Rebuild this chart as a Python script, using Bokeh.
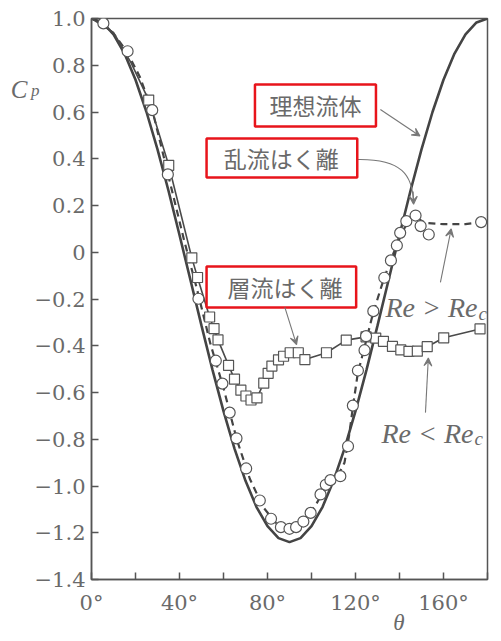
from bokeh.plotting import figure
from bokeh.models import (Range1d, FixedTicker, CustomJSTickFormatter, Label,
                          BoxAnnotation, Arrow, VeeHead, LinearAxis)
from bokeh.embed import file_html
from bokeh.resources import INLINE

# ---------------- data ----------------
ideal_theta = [0, 5, 10, 15, 20, 25, 30, 35, 40, 45, 50, 55, 60, 65, 70, 75, 80, 85, 90,
               95, 100, 105, 110, 115, 120, 125, 130, 135, 140, 145, 150, 155, 160, 165,
               170, 175, 180]
ideal_cp = [1.0, 0.983, 0.932, 0.850, 0.738, 0.600, 0.440, 0.263, 0.074, -0.120, -0.314,
            -0.503, -0.680, -0.840, -0.978, -1.090, -1.172, -1.223, -1.240,
            -1.223, -1.172, -1.090, -0.978, -0.840, -0.680, -0.503, -0.314, -0.120,
            0.074, 0.263, 0.440, 0.600, 0.738, 0.850, 0.932, 0.983, 1.0]

turb_line_theta = [0, 5, 10, 16, 22, 28, 35, 42, 48, 54, 60, 66, 72, 78, 84, 90, 96, 102,
                   107, 112, 115, 117, 119, 121, 124, 128, 133, 137, 141, 144, 147, 152,
                   160, 170, 178]
turb_line_cp = [1.0, 0.98, 0.935, 0.86, 0.75, 0.595, 0.325, 0.055, -0.16, -0.39, -0.58,
                -0.80, -0.97, -1.09, -1.16, -1.185, -1.155, -1.08, -0.995, -0.955, -0.90,
                -0.79, -0.65, -0.52, -0.41, -0.26, -0.11, -0.01, 0.08, 0.135, 0.15,
                0.125, 0.12, 0.12, 0.13]

turb_theta = [5.4, 16.4, 27.6, 34.7, 48.6, 56.5, 59.5, 62.8, 65.9, 70.3, 76.5, 81.6, 86.1,
              90.0, 93.0, 96.3, 99.6, 104.1, 106.5, 108.6, 113.1, 116.6, 118.8, 121.1,
              124.1, 124.8, 128.1, 133.1, 136.1, 138.8, 140.3, 143.1, 147.3, 149.6,
              153.3, 177.1]
turb_cp = [0.979, 0.860, 0.608, 0.333, -0.199, -0.464, -0.562, -0.686, -0.796, -0.925,
           -1.062, -1.140, -1.176, -1.183, -1.176, -1.152, -1.115, -1.036, -0.995, -0.975,
           -0.958, -0.830, -0.656, -0.506, -0.419, -0.359, -0.252, -0.109, -0.035, 0.029,
           0.083, 0.133, 0.157, 0.112, 0.076, 0.129]

lam_theta = [26.0, 35.1, 45.6, 48.2, 53.7, 55.7, 57.5, 62.3, 65.0, 67.9, 70.2, 72.5, 75.2,
             78.3, 80.3, 82.0, 85.0, 87.3, 90.3, 94.0, 97.0, 106.8, 115.8, 124.8, 129.2,
             132.7, 136.8, 140.6, 144.3, 148.1, 152.6, 160.1, 176.6]
lam_cp = [0.651, 0.372, -0.024, -0.108, -0.277, -0.327, -0.375, -0.484, -0.543, -0.59,
          -0.615, -0.632, -0.623, -0.56, -0.518, -0.487, -0.46, -0.445, -0.43, -0.43,
          -0.459, -0.43, -0.376, -0.362, -0.367, -0.381, -0.403, -0.418, -0.424, -0.423,
          -0.404, -0.366, -0.328]

lam_line_theta = [0, 10, 18] + lam_theta
lam_line_cp = [1.0, 0.94, 0.81] + lam_cp

y_ticks = [-1.4, -1.2, -1.0, -0.8, -0.6, -0.4, -0.2, 0.0, 0.2, 0.4, 0.6, 0.8, 1.0]
x_ticks = [0, 20, 40, 60, 80, 100, 120, 140, 160, 180]

# ---------------- figure ----------------
GREY = "#555555"
TXT = "#6a6a6a"
RED = "#e8141b"

p = figure(width=498, height=638, output_backend="svg", toolbar_location=None,
           x_range=Range1d(0, 180), y_range=Range1d(-1.4, 1.0))
p.min_border_left = 91
p.min_border_right = 11
p.min_border_top = 18
p.min_border_bottom = 59
p.grid.visible = False
p.outline_line_color = GREY
p.outline_line_width = 1.5
p.outline_line_alpha = 1.0
p.background_fill_color = "white"
p.border_fill_color = "white"

for ax in (p.xaxis[0], p.yaxis[0]):
    ax.axis_line_color = GREY
    ax.axis_line_width = 1.5
    ax.major_tick_line_color = GREY
    ax.major_tick_line_width = 1.5
    ax.major_tick_in = 7
    ax.major_tick_out = 0
    ax.minor_tick_line_color = None
    ax.major_label_text_font = "DejaVu Serif"
    ax.major_label_text_font_size = "21px"
    ax.major_label_text_color = TXT

p.yaxis.ticker = FixedTicker(ticks=y_ticks)
p.yaxis.formatter = CustomJSTickFormatter(code="""
    if (Math.abs(tick) < 1e-9) return "0";
    return (tick < 0 ? "\u2212" : "") + Math.abs(tick).toFixed(1);
""")
p.yaxis.major_label_standoff = 6
p.xaxis.ticker = FixedTicker(ticks=x_ticks)
p.xaxis.formatter = CustomJSTickFormatter(code="""
    var t = Math.round(tick);
    return (t % 40 == 0) ? t + "\u00b0" : "";
""")
p.xaxis.major_label_standoff = 11


def title_axis(text, pos, size, standoff):
    ax = LinearAxis(ticker=FixedTicker(ticks=[pos]),
                    formatter=CustomJSTickFormatter(code='return "%s";' % text))
    ax.axis_line_color = None
    ax.major_tick_line_color = None
    ax.minor_tick_line_color = None
    ax.major_tick_in = 0
    ax.major_tick_out = 0
    ax.minor_tick_in = 0
    ax.minor_tick_out = 0
    ax.major_label_text_font = "Liberation Serif"
    ax.major_label_text_font_style = "italic"
    ax.major_label_text_font_size = size
    ax.major_label_text_color = TXT
    ax.major_label_standoff = standoff
    return ax

# axis titles: C with subscript p, and theta
p.add_layout(title_axis("p", 0.691, "17px", -8), "left")
p.add_layout(title_axis("C", 0.698, "25px", 0), "left")
p.add_layout(title_axis("θ", 139.7, "23px", -8), "below")

# curves
p.line(ideal_theta, ideal_cp, line_color="#444444", line_width=2.6)
p.line(turb_line_theta, turb_line_cp, line_color="#444444", line_width=2.2,
       line_dash="7 5")
p.line(lam_line_theta, lam_line_cp, line_color="#4a4a4a", line_width=1.6)

# markers
p.scatter(lam_theta, lam_cp, marker="square", size=10, fill_color="white",
          line_color=GREY, line_width=1.2)
p.scatter(turb_theta, turb_cp, marker="circle", size=11, fill_color="white",
          line_color=GREY, line_width=1.2)

# annotation boxes
for (l, r, b, t) in [(74.3, 129.3, 0.538, 0.718),
                     (52.3, 120.8, 0.320, 0.487),
                     (52.3, 120.3, -0.236, -0.061)]:
    p.add_layout(BoxAnnotation(left=l, right=r, bottom=b, top=t, fill_color="white",
                               fill_alpha=1.0, line_color=RED, line_alpha=1.0,
                               line_width=2.5))

def jlabel(x, y, s):
    p.add_layout(Label(x=x, y=y, text=s, text_font="Noto Sans CJK JP",
                       text_font_size="23px", text_color=TXT, text_align="center",
                       text_baseline="middle"))

jlabel(101.8, 0.628, "理想流体")
jlabel(86.3, 0.403, "乱流はく離")
jlabel(88.0, -0.149, "層流はく離")

# arrows
def arrow(x0, y0, x1, y1):
    p.add_layout(Arrow(x_start=x0, y_start=y0, x_end=x1, y_end=y1,
                       line_color="#777777", line_width=1.1,
                       end=VeeHead(size=8, line_color="#777777", line_width=1.1,
                                   fill_color="#777777")))

arrow(131.3, 0.611, 149.3, 0.497)
arrow(87.9, -0.236, 93.2, -0.395)
arrow(158.6, -0.129, 163.5, 0.100)
arrow(151.8, -0.686, 153.1, -0.452)

# curved connector for 乱流はく離
p.bezier(x0=[121.0], y0=[0.397], x1=[146.3], y1=[0.215],
         cx0=[141.0], cy0=[0.400], cx1=[146.0], cy1=[0.33],
         line_color="#777777", line_width=1.1)
arrow(146.2, 0.26, 146.4, 0.205)

# Re labels (screen units relative to the plot frame)
def slabel(x, y, s, size):
    p.add_layout(Label(x=x, y=y, x_units="screen", y_units="screen", text=s,
                       text_font="Liberation Serif", text_font_style="italic",
                       text_font_size=size, text_color=TXT, text_align="left",
                       text_baseline="alphabetic"))

slabel(294, 272, "Re > Re", "28px")
slabel(387, 266, "c", "19px")
slabel(290, 146, "Re < Re", "28px")
slabel(383, 141, "c", "19px")

open("out.html", "w").write(file_html(p, INLINE))
